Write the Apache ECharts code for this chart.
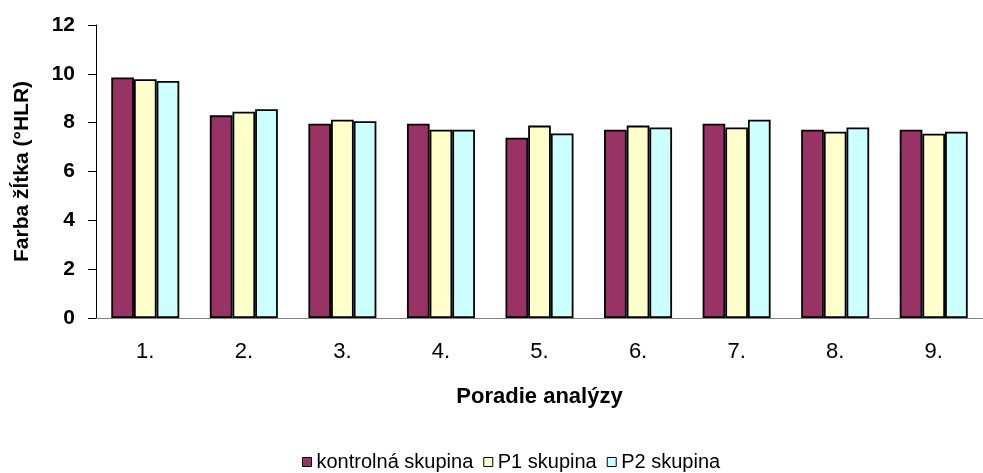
<!DOCTYPE html>
<html>
<head>
<meta charset="utf-8">
<script src="https://cdn.jsdelivr.net/npm/echarts@6/dist/echarts.min.js"></script>
<style>
  html, body { margin: 0; padding: 0; background: #fff; }
  #chart { width: 983px; height: 473px; }
</style>
</head>
<body>
<div id="chart"></div>
<script>
// poradie analýzy
const categories = ['1.', '2.', '3.', '4.', '5.', '6.', '7.', '8.', '9.'];
const seriesNames = ['kontrolná skupina', 'P1 skupina', 'P2 skupina'];
// farba žĺtka (°HLR), odčítané z grafu
const kontrolna = [9.85, 8.30, 7.96, 7.96, 7.38, 7.71, 7.96, 7.71, 7.71];
const p1 = [9.78, 8.45, 8.12, 7.71, 7.88, 7.88, 7.80, 7.63, 7.55];
const p2 = [9.71, 8.55, 8.06, 7.71, 7.56, 7.80, 8.12, 7.80, 7.63];
const colors = ['#993366', '#FFFFCC', '#CCFFFF'];

const font = "'Liberation Sans', Arial, sans-serif";

let chart = echarts.init(document.getElementById('chart'));

function barSeries(name, data, color) {
    return {
        name: name,
        type: 'bar',
        data: data,
        barGap: '0%',
        barCategoryGap: '31%',
        itemStyle: { color: color, borderColor: '#000', borderWidth: 1.8 }
    };
}

chart.setOption({
    animation: false,
    grid: { left: 96, right: -10, top: 25, bottom: 155 },
    legend: {
        left: 297,
        top: 447,
        itemWidth: 9,
        itemHeight: 9,
        itemGap: 10,
        icon: 'rect',
        textStyle: { fontFamily: font, fontSize: 20, color: '#000' },
        data: seriesNames.map((n, i) => ({
            name: n,
            itemStyle: { color: colors[i], borderColor: '#000', borderWidth: 1 }
        }))
    },
    xAxis: {
        type: 'category',
        data: categories,
        name: 'Poradie analýzy',
        nameLocation: 'middle',
        nameGap: 68,
        nameTextStyle: { fontFamily: font, fontSize: 22, fontWeight: 'bold', color: '#000' },
        axisLine: { lineStyle: { color: '#808080', width: 1 } },
        axisTick: { length: 7, lineStyle: { color: '#000' } },
        axisLabel: { fontFamily: font, fontSize: 22, color: '#000', margin: 23 }
    },
    yAxis: {
        type: 'value',
        min: 0,
        max: 12,
        interval: 2,
        name: 'Farba žĺtka (°HLR)',
        nameLocation: 'middle',
        nameGap: 63,
        nameTextStyle: { fontFamily: font, fontSize: 21, fontWeight: 'bold', color: '#000' },
        axisLine: { show: true, lineStyle: { color: '#000', width: 1 } },
        axisTick: { show: true, length: 8, lineStyle: { color: '#000' } },
        axisLabel: { fontFamily: font, fontSize: 21, fontWeight: 'bold', color: '#000', margin: 21 },
        splitLine: { show: false }
    },
    series: [
        barSeries(seriesNames[0], kontrolna, colors[0]),
        barSeries(seriesNames[1], p1, colors[1]),
        barSeries(seriesNames[2], p2, colors[2])
    ]
});
</script>
</body>
</html>
